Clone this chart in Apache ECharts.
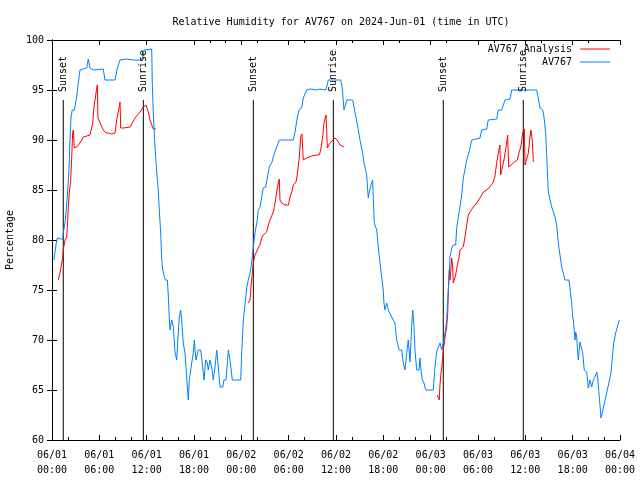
<!DOCTYPE html>
<html>
<head>
<meta charset="utf-8">
<script src="https://cdn.jsdelivr.net/npm/echarts@6/dist/echarts.min.js"></script>
<style>html,body{margin:0;padding:0;background:#fff}#c{width:640px;height:480px}</style>
</head>
<body>
<div id="c"></div>
<script>
// hours since 2024-06-01 00:00 UTC
const blueTime = [0.25,0.5,0.67,0.89,1.1,1.36,1.43,1.65,1.77,1.94,2.07,2.15,2.28,2.41,2.57,2.83,3.13,3.33,3.55,3.97,4.4,4.6,4.82,5.24,6.5,6.72,7.14,7.99,8.28,8.62,9.47,10.3,11.16,11.5,11.66,12.64,12.71,12.84,13.06,13.27,13.47,13.6,13.78,13.9,14.03,14.2,14.36,14.62,14.74,14.87,14.96,15.17,15.38,15.59,15.81,15.93,16.14,16.31,16.44,16.64,16.86,17.07,17.28,17.4,17.71,17.91,18.04,18.25,18.55,18.85,19.05,19.27,19.48,19.69,19.81,20.03,20.24,20.45,20.66,20.88,21.08,21.3,21.64,21.8,22.06,22.35,22.56,22.86,23.92,24.05,24.25,24.46,24.68,24.88,25.1,25.31,25.52,25.73,26.02,26.15,26.37,26.58,26.78,27.09,27.29,27.54,27.85,28.05,28.48,28.81,30.59,30.8,31.09,31.31,31.65,31.85,32.28,32.7,33.55,33.97,34.73,35.02,36.6,36.8,37.01,37.14,37.36,38.12,38.28,38.53,38.83,39.04,39.38,39.55,39.89,40.09,40.22,40.52,40.65,40.72,40.85,41.16,41.36,41.58,41.79,41.99,42.08,42.21,42.42,42.63,42.84,43.06,43.26,43.48,43.69,44.02,44.33,44.53,44.75,44.96,45.16,45.38,45.59,45.72,45.89,46.01,46.23,46.52,46.65,46.77,46.94,47.15,47.37,48.33,48.55,48.76,48.97,49.18,49.4,49.6,49.82,50.03,50.24,50.36,50.45,50.67,50.87,51.17,51.3,51.5,51.72,51.93,52.14,52.57,52.99,53.2,53.4,54.25,54.47,55.1,55.3,56.37,56.57,57.0,57.42,58.06,58.27,61.44,61.64,61.86,62.2,62.37,62.58,62.79,62.91,63.13,63.34,63.54,63.76,63.97,64.18,64.39,64.61,64.81,65.03,65.54,65.75,65.88,66.0,66.08,66.3,66.39,66.51,66.71,66.93,67.14,67.27,67.47,67.78,67.98,68.2,68.41,68.62,68.83,69.05,69.17,69.3,69.46,69.59,69.75,69.97,70.19,70.39,70.64,70.86,71.02,71.2,71.45,71.66,71.91];
const blueRH = [78,79.5,80.2,80.3,80.1,80.1,80.7,81.7,82.7,84.3,86,87,90,92.3,93,93,94.3,95.7,97,97.1,97.2,98.1,97.2,97,97.1,96,96,96,97.2,98,98.1,98,98,98.2,99,99.1,95.7,92.7,89.3,86.8,85,83,80.7,78.2,77,77,76,76,74.5,72.2,71,72,71.3,68.8,68,69.7,72.3,73,72,69.7,68.7,66.3,64,66,67.7,68.7,70,68,69,69,67.7,66,68,67.7,67,68,67.3,66,67.3,69,67.3,65.3,65.3,66,66,69,68,66,66,68.7,72,73.5,75.2,76,76.7,77.7,79.3,80.7,82,83,83.3,84.3,85.2,85.3,86.2,87.3,87.7,88.3,89.3,90,90,90.8,92.2,93,93.2,94.2,95,95.1,95,95.1,95,96,96,95.2,93,93.3,94,94,93.3,92.3,91,90,88.7,87.7,86.5,84.2,84.8,85.7,86,84.3,81.7,81,79.3,77.7,76.3,75,73.7,73,73.7,73,72.8,72.3,72,71.7,70,69,69,67.7,67,68.7,70,67.8,71.3,73,71.3,69,67,67,68.2,67,66,65.7,65,65,67.3,68.8,69,69.7,69,69.7,70.7,72,75,76.7,78.3,79.2,79.5,79.5,81.2,82.3,83.3,84.5,86.2,88,89.2,90,90.2,90.2,91,91.1,92,92.1,93,93,94,94.1,95,95,94.2,93.2,93,92.3,90.7,87,84.8,84,83.3,83.1,82.3,81.5,79.7,78.5,77.3,76.7,76,76,74.5,73.7,72.3,72,70,70.8,70.3,68,69.8,70,68.7,67,66.8,65.2,66,65.3,66,66.3,66.8,66.3,65,63.5,62.2,62.7,63.5,64.3,65,65.2,66.7,68.2,69.7,70.7,71.3,72];

const redTime = [0.8,1.01,1.23,1.36,1.43,1.65,1.86,1.94,2.07,2.19,2.37,2.5,2.62,2.7,2.83,3.13,3.55,3.97,4.82,5.03,5.16,5.32,5.58,5.74,5.83,6.08,6.5,6.85,7.14,7.57,7.99,8.2,8.4,8.62,8.71,9.04,9.89,10.52,11.16,11.57,11.92,12.21,12.42,12.84,13.18,
  18.0,
  24.88,25.1,25.22,25.39,25.52,25.73,25.95,26.15,26.37,26.58,26.78,27.0,27.21,27.42,27.64,27.85,28.05,28.27,28.48,28.69,28.81,28.9,29.11,29.54,29.96,30.17,30.39,30.59,30.93,31.09,31.35,31.53,31.69,31.85,32.28,32.92,33.55,33.88,34.06,34.31,34.48,34.73,34.82,34.9,35.24,35.58,35.87,36.16,36.51,37.01,
  42.0,
  48.84,48.97,49.09,49.18,49.31,49.47,49.6,49.73,49.9,50.03,50.16,50.24,50.36,50.45,50.67,50.79,50.87,51.0,51.17,51.38,51.59,51.72,51.93,52.14,52.35,52.57,52.77,52.99,53.4,53.83,54.25,54.67,55.1,55.52,55.94,56.15,56.37,56.57,56.78,56.87,57.08,57.29,57.55,57.76,57.89,58.06,58.48,58.99,59.12,59.42,59.67,59.88,59.96,60.18,60.38,60.59,60.72,60.88,61.01];
const redRH = [76,76.7,77.7,78.3,79,80,80.3,81.3,83.3,84.7,86,88.3,90.7,91,89.2,89.3,89.7,90.3,90.5,90.5,91.7,93.3,94.7,95.5,92.2,92,91,90.7,90.7,90.6,90.7,92,92.8,93.8,91.2,91.2,91.3,92.2,92.8,93.3,93.5,92.8,92,91.1,91.1,
  null,
  73.7,74,75.3,76.7,77.7,78.5,78.7,79.2,79.5,80.2,80.5,80.5,80.8,81.5,82,82.2,82.8,83.7,84.8,85.7,86.1,84,83.7,83.5,83.5,84.3,84.8,85.5,85.8,86.5,88.3,90.3,90.6,88,88.2,88.4,88.5,88.5,89,90.3,91.7,92.5,91,89.2,89.7,90,90.2,90,89.5,89.3,
  null,
  64.5,64.3,64,65.5,66.7,67.7,69,69.7,70.7,71.3,72.7,75,77,76,78.2,77.3,75.7,75.5,76.5,77.5,78.2,79,79,79.3,80.3,81.5,82.5,82.8,83.3,83.7,84.2,84.8,85,85.3,85.8,86.4,87.7,88.7,89.5,86.5,86.5,88,89.3,90.5,87.3,87.3,87.7,88,88.5,89.3,90.7,91.1,87.5,87.5,88.7,90.3,91,90,87.8];

const sunTime = [1.43, 11.58, 25.52, 35.66, 49.6, 59.74];
const sunLabel = ['Sunset', 'Sunrise', 'Sunset', 'Sunrise', 'Sunset', 'Sunrise'];
const sunLineTop = 94;
const sunTextBase = 94.8;

const xMinorBottom = [2,8,10,14,16,20,22,26,32,38,44,46,50,56,62,68,70];
const xMinorTop = [20,22,26,32,38,44,50,56,62,68];

const FONT = 'DejaVu Sans Mono';
const pad2 = n => (n < 10 ? '0' : '') + n;
function xLabel(h) {
  const day = 1 + Math.floor(h / 24);
  const hr = Math.round(h % 24);
  return '06/' + pad2(day) + '\n' + pad2(hr) + ':00';
}

const bluePts = blueTime.map((t, i) => [t, blueRH[i]]);
const redPts = redTime.map((t, i) => [t, redRH[i]]);
const sunPts = [];
sunTime.forEach(t => { sunPts.push([t, 60]); sunPts.push([t, sunLineTop]); sunPts.push([t, null]); });
const sunText = sunTime.map((t, i) => [t, sunTextBase, sunLabel[i]]);

const chart = echarts.init(document.getElementById('c'), null, {renderer: 'canvas'});
const baseX = {type: 'value', min: 0, max: 72, splitLine: {show: false}};
const legendCommon = {right: 30, align: 'right', icon: 'rect', itemWidth: 30, itemHeight: 1, itemGap: 0, padding: 0,
  textStyle: {fontFamily: FONT, fontSize: 10, color: '#000', padding: [0, 3, 0, 0]}};
chart.setOption({
  animation: false,
  backgroundColor: '#fff',
  textStyle: {fontFamily: FONT},
  title: {
    text: 'Relative Humidity for AV767 on 2024-Jun-01 (time in UTC)',
    left: 336, top: 12, textAlign: 'center',
    textStyle: {fontFamily: FONT, fontSize: 10, fontWeight: 'normal', color: '#000'}
  },
  legend: [
    Object.assign({}, legendCommon, {data: ['AV767 Analysis'], top: 44}),
    Object.assign({}, legendCommon, {data: ['AV767'], top: 57})
  ],
  grid: {left: 52, right: 20, top: 40, bottom: 40, containLabel: false, outerBoundsMode: 'none'},
  xAxis: [
    Object.assign({}, baseX, {position: 'bottom', interval: 6,
      axisLine: {show: true, lineStyle: {color: '#000', width: 1}},
      axisTick: {show: true, inside: true, length: 5, lineStyle: {color: '#000'}},
      axisLabel: {show: true, formatter: xLabel, color: '#000', fontFamily: FONT, fontSize: 10, lineHeight: 15, margin: 8}}),
    Object.assign({}, baseX, {position: 'top', interval: 6,
      axisLine: {show: true, lineStyle: {color: '#000', width: 1}},
      axisTick: {show: true, inside: true, length: 5, lineStyle: {color: '#000'}},
      axisLabel: {show: false}}),
    Object.assign({}, baseX, {position: 'bottom',
      axisLine: {show: false},
      axisTick: {show: true, inside: true, length: 3, customValues: xMinorBottom, lineStyle: {color: '#000'}},
      axisLabel: {show: false}}),
    Object.assign({}, baseX, {position: 'top',
      axisLine: {show: false},
      axisTick: {show: true, inside: true, length: 3, customValues: xMinorTop, lineStyle: {color: '#000'}},
      axisLabel: {show: false}})
  ],
  yAxis: [
    {type: 'value', min: 60, max: 100, interval: 5, position: 'left',
     name: 'Percentage', nameLocation: 'middle', nameGap: 34, nameRotate: 90,
     nameTextStyle: {fontFamily: FONT, fontSize: 10, color: '#000'},
     splitLine: {show: false},
     axisLine: {show: true, lineStyle: {color: '#000', width: 1}},
     axisTick: {show: true, inside: true, length: 5, lineStyle: {color: '#000'}},
     axisLabel: {color: '#000', fontFamily: FONT, fontSize: 10, margin: 8}},
    {type: 'value', min: 60, max: 100, interval: 5, position: 'right',
     splitLine: {show: false},
     axisLine: {show: true, lineStyle: {color: '#000', width: 1}},
     axisTick: {show: true, inside: true, length: 5, lineStyle: {color: '#000'}},
     axisLabel: {show: false}}
  ],
  series: [
    {name: 'sun', type: 'line', data: sunPts, showSymbol: false, symbol: 'none', connectNulls: false, silent: true,
     lineStyle: {color: '#000', width: 1}, itemStyle: {color: '#000'}, z: 1},
    {name: 'sunText', type: 'scatter', data: sunText, symbolSize: 0, silent: true, itemStyle: {color: '#000'},
     label: {show: true, position: 'inside', rotate: 90, align: 'left', verticalAlign: 'middle',
       textBorderWidth: 0, opacity: 1,
       formatter: p => p.value[2], fontFamily: FONT, fontSize: 10, color: '#000'}, z: 3},
    {name: 'AV767 Analysis', type: 'line', data: redPts, showSymbol: false, symbol: 'none', connectNulls: false,
     lineStyle: {color: '#ff0000', width: 1}, itemStyle: {color: '#ff0000'}, z: 2},
    {name: 'AV767', type: 'line', data: bluePts, showSymbol: false, symbol: 'none',
     lineStyle: {color: '#0080ff', width: 1}, itemStyle: {color: '#0080ff'}, z: 2}
  ]
});
</script>
</body>
</html>
